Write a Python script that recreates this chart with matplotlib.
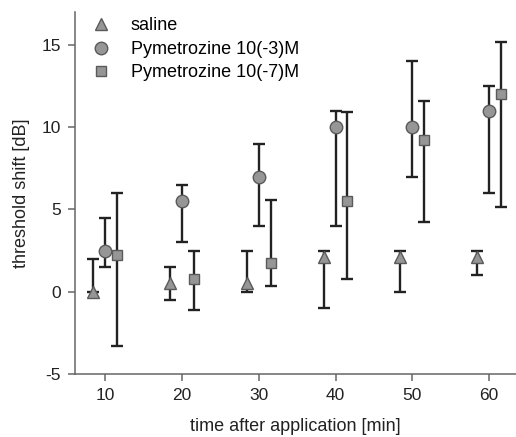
import numpy as np
import matplotlib.pyplot as plt

plt.rcParams['font.family'] = ['Liberation Sans', 'DejaVu Sans']
plt.rcParams['axes.unicode_minus'] = False

times = np.array([10, 20, 30, 40, 50, 60])

# mean threshold shift and the ends of each error bar [dB]
saline = np.array([0.0, 0.5, 0.5, 2.1, 2.1, 2.1])
saline_hi = np.array([2.0, 1.5, 2.5, 2.5, 2.5, 2.5])
saline_lo = np.array([0.0, -0.5, 0.0, -1.0, 0.0, 1.0])

pym3 = np.array([2.5, 5.5, 7.0, 10.0, 10.0, 11.0])
pym3_hi = np.array([4.5, 6.5, 9.0, 11.0, 14.0, 12.5])
pym3_lo = np.array([1.5, 3.0, 4.0, 4.0, 7.0, 6.0])

pym7 = np.array([2.25, 0.75, 1.75, 5.5, 9.25, 12.0])
pym7_hi = np.array([6.0, 2.5, 5.6, 10.9, 11.6, 15.15])
pym7_lo = np.array([-3.3, -1.1, 0.35, 0.75, 4.25, 5.15])

labels = ['saline', 'Pymetrozine 10(-3)M', 'Pymetrozine 10(-7)M']

fig = plt.figure(figsize=(5.16, 4.37), dpi=100)
ax = fig.add_axes([0.1453, 0.1442, 0.8547, 0.8283])

series = [
    (saline, saline_lo, saline_hi, -1.55, '^', 8.5),
    (pym3, pym3_lo, pym3_hi, 0.0, 'o', 9),
    (pym7, pym7_lo, pym7_hi, 1.55, 's', 7.5),
]
handles = []
for (y, lo, hi, dx, m, ms), lab in zip(series, labels):
    ax.errorbar(times + dx, y, yerr=[y - lo, hi - y], fmt='none',
                ecolor='#222222', elinewidth=1.7, capsize=4.5, capthick=1.7,
                zorder=2)
    h, = ax.plot(times + dx, y, linestyle='none', marker=m, markersize=ms,
                 markerfacecolor='#969696', markeredgecolor='#5a5a5a',
                 markeredgewidth=1.0, zorder=3, label=lab)
    handles.append(h)

ax.legend(handles=handles, loc='upper left', frameon=False, fontsize=13,
          bbox_to_anchor=(0.0, 1.02), handletextpad=0.9, labelspacing=0.36,
          borderaxespad=0.3, handlelength=1.5)

ax.set_xlim(6.05, 63.5)
ax.set_ylim(-5, 17)
ax.set_xticks(times)
ax.set_yticks([-5, 0, 5, 10, 15])

for s in ['top', 'right']:
    ax.spines[s].set_visible(False)
for s in ['left', 'bottom']:
    ax.spines[s].set_color('#666666')
    ax.spines[s].set_linewidth(1.1)
ax.tick_params(direction='out', length=5, width=1.1, color='#666666',
               labelsize=12.5, labelcolor='#222222', pad=5)

ax.set_xlabel('time after application [min]', fontsize=13, color='#222222',
              labelpad=11)
ax.set_ylabel('threshold shift [dB]', fontsize=13, color='#222222',
              labelpad=8)

fig.savefig('out.png', dpi=100)
